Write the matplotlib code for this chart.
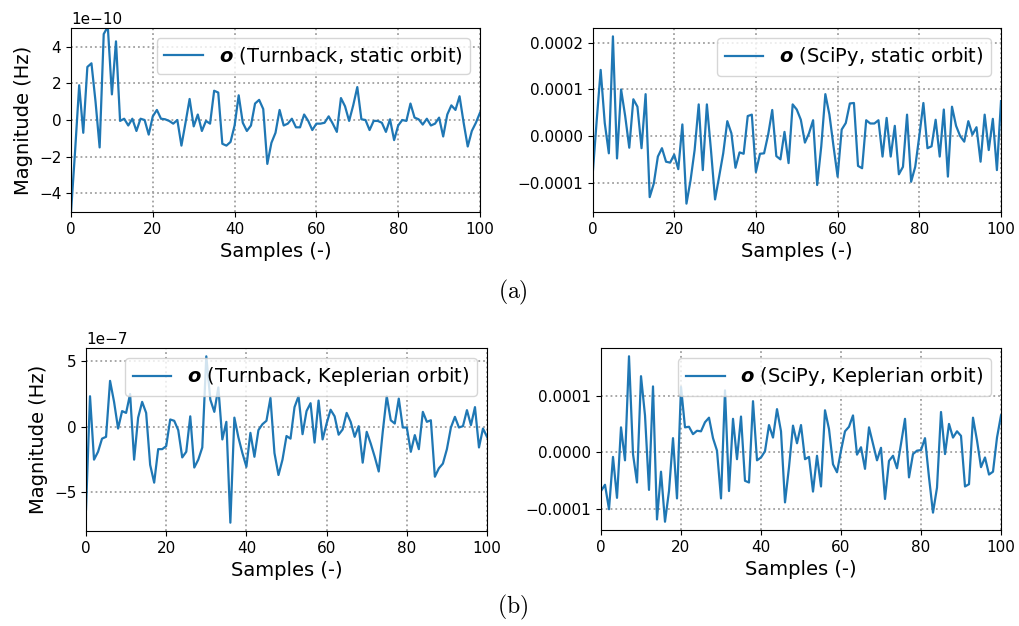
import numpy as np
import matplotlib
matplotlib.use("Agg")
import matplotlib.pyplot as plt
from matplotlib.ticker import MultipleLocator

samples = np.arange(101)

# Turnback, static orbit (units of 1e-10 Hz)
turnback_static = np.array([
    -5.05, -1.7, 1.9, -0.7, 2.9, 3.1, 1.0, -1.5, 4.7, 5.1,
    1.4, 4.3, -0.05, 0.07, -0.3, 0.07, -0.6, 0.07, 0.0, -0.8,
    0.2, 0.55, 0.07, 0.04, -0.05, -0.2, 0.0, -1.4, -0.15, 1.15,
    -0.35, 0.3, -0.6, -0.05, -0.2, 1.6, 1.5, -1.3, -1.4, -1.2,
    -0.3, 1.35, -0.15, -0.6, -0.3, 0.9, 1.1, 0.6, -2.4, -1.25,
    -0.7, 0.55, -0.3, -0.2, 0.07, -0.4, -0.4, 0.3, -0.05, -0.55,
    -0.2, -0.2, -0.15, 0.2, -0.2, -0.65, 1.2, 0.75, -0.05, 0.8,
    1.8, 0.04, 0.0, -0.55, -0.05, -0.05, -0.15, -0.65, 0.04, -1.1,
    -0.3, 0.0, -0.05, 0.9, 0.13, 0.04, -0.25, 0.07, -0.3, -0.2,
    0.13, -0.9, 0.3, 0.8, 0.55, 1.3, -0.15, -1.45, -0.6, -0.15,
    0.4]) * 1e-10

# SciPy, static orbit (units of 1e-4 Hz)
scipy_static = np.array([
    -0.87, 0.3, 1.42, 0.28, -0.37, 2.14, -0.48, 1.0, 0.43, -0.25,
    0.79, 0.63, -0.26, 0.9, -1.31, -1.02, -0.44, -0.26, -0.55, -0.57,
    -0.4, -0.71, 0.25, -1.45, -0.95, -0.3, 0.68, -0.73, 0.68, -0.3,
    -1.36, -0.87, -0.37, 0.32, 0.06, -0.68, -0.35, -0.38, 0.43, 0.46,
    -0.77, -0.38, -0.37, 0.03, 0.56, -0.43, -0.5, 0.09, -0.58, 0.68,
    0.57, 0.35, -0.14, 0.06, 0.34, -1.05, -0.22, 0.9, 0.46, -0.22,
    -0.87, 0.14, 0.28, 0.7, 0.71, -0.64, -0.69, 0.34, 0.27, 0.27,
    0.34, -0.44, 0.39, -0.44, 0.22, -0.82, -0.66, 0.46, -0.98, -0.66,
    0.0, 0.71, -0.26, -0.22, 0.35, -0.44, 0.57, -0.87, 0.63, 0.22,
    0.0, -0.12, 0.32, 0.03, 0.19, -0.55, 0.46, -0.3, 0.37, -0.73,
    0.75]) * 1e-4

# Turnback, Keplerian orbit (units of 1e-7 Hz)
turnback_kepler = np.array([
    -6.3, 2.33, -2.5, -1.9, -0.9, -0.76, 3.5, 1.9, -0.13, 1.2,
    1.06, 2.5, -2.5, 0.7, 1.9, 1.06, -2.9, -4.25, -1.7, -1.7,
    -1.47, 0.56, 0.46, -0.25, -2.33, -1.9, 0.8, -3.1, -2.5, -1.57,
    5.37, 2.08, 1.14, 3.0, -0.96, 0.38, -7.3, 0.7, -0.8, -2.0,
    -3.04, -0.46, -2.28, -0.25, 0.2, 0.46, 2.2, -2.0, -3.67, -2.5,
    -0.7, -0.9, 1.5, 2.33, -0.56, 1.2, 1.8, -1.2, 2.0, -0.96,
    0.25, 1.3, 0.8, -0.6, -0.2, 1.06, 0.38, -0.76, 0.05, -2.73,
    -0.38, -1.27, -2.28, -3.4, -0.38, 2.33, 0.5, 0.25, 2.15, -0.05,
    -0.05, -1.9, -0.63, -1.7, 1.14, 0.38, 0.5, -3.8, -3.16, -2.8,
    -1.7, -0.05, 0.76, -0.05, 0.05, 1.27, 0.13, 1.5, -1.57, -0.13,
    -0.76]) * 1e-7

# SciPy, Keplerian orbit (units of 1e-4 Hz)
scipy_kepler = np.array([
    -0.68, -0.57, -1.0, -0.08, -0.8, 0.44, -0.14, 1.69, -0.03, -0.53,
    1.34, 0.65, -0.66, 1.16, -1.18, -0.34, -1.22, -0.68, 0.25, -0.81,
    1.15, 0.44, 0.45, 0.32, 0.38, 0.37, 0.53, 0.61, 0.25, 0.03,
    -0.81, 1.09, -0.68, 0.59, -0.12, 0.63, -0.5, -0.53, 0.9, -0.14,
    -0.09, 0.02, 0.48, 0.26, 0.76, 0.37, -0.88, -0.26, 0.47, 0.16,
    0.48, -0.12, -0.08, -0.69, -0.06, -0.6, 0.74, 0.41, -0.21, -0.35,
    0.03, 0.37, 0.45, 0.65, -0.04, 0.09, -0.29, 0.44, 0.15, -0.14,
    0.08, -0.82, -0.15, -0.06, -0.28, 0.15, 0.59, -0.44, -0.03, 0.03,
    0.04, 0.25, -0.44, -1.06, -0.62, 0.71, -0.03, 0.5, 0.26, 0.37,
    0.29, -0.6, -0.56, 0.61, 0.21, -0.26, -0.09, -0.39, -0.34, 0.26,
    0.65]) * 1e-4

labels = [r"$\boldsymbol{o}$ (Turnback, static orbit)",
          r"$\boldsymbol{o}$ (SciPy, static orbit)",
          r"$\boldsymbol{o}$ (Turnback, Keplerian orbit)",
          r"$\boldsymbol{o}$ (SciPy, Keplerian orbit)"]
series = [turnback_static, scipy_static, turnback_kepler, scipy_kepler]

fig = plt.figure(figsize=(10.19, 6.26), dpi=100)
W, H = 1019.0, 626.0
# axes boxes in pixels: left, top, right, bottom
boxes = [(71, 28, 480, 212), (592.5, 28, 1001, 212),
         (86, 348, 487, 531), (601, 348, 1001, 530)]

for k, (data, lab, b) in enumerate(zip(series, labels, boxes)):
    l, t, r, bt = b
    ax = fig.add_axes([l / W, 1 - bt / H, (r - l) / W, (bt - t) / H])
    ax.plot(samples, data, color="#1f77b4", lw=1.6, label=lab)
    ax.set_xlim(0, 100)
    if k == 0:
        ax.set_ylim(-5.03e-10, 5.03e-10)
    if k == 2:
        ax.yaxis.set_major_locator(MultipleLocator(5e-7))
    ax.grid(True, linestyle=":", color="#a0a0a0", linewidth=1.3)
    ax.tick_params(labelsize=11)
    ax.set_xlabel("Samples (-)", fontsize=14)
    if k % 2 == 0:
        ax.set_ylabel("Magnitude (Hz)", fontsize=14)
    ax.yaxis.get_offset_text().set_fontsize(11)
    ax.legend(loc="upper right", fontsize=14)

fig.text(513 / W, 1 - 292 / H, r"$\mathrm{(a)}$", fontsize=17,
         ha="center", va="center", math_fontfamily="cm")
fig.text(513 / W, 1 - 607 / H, r"$\mathrm{(b)}$", fontsize=17,
         ha="center", va="center", math_fontfamily="cm")

fig.savefig("out.png", dpi=100)
